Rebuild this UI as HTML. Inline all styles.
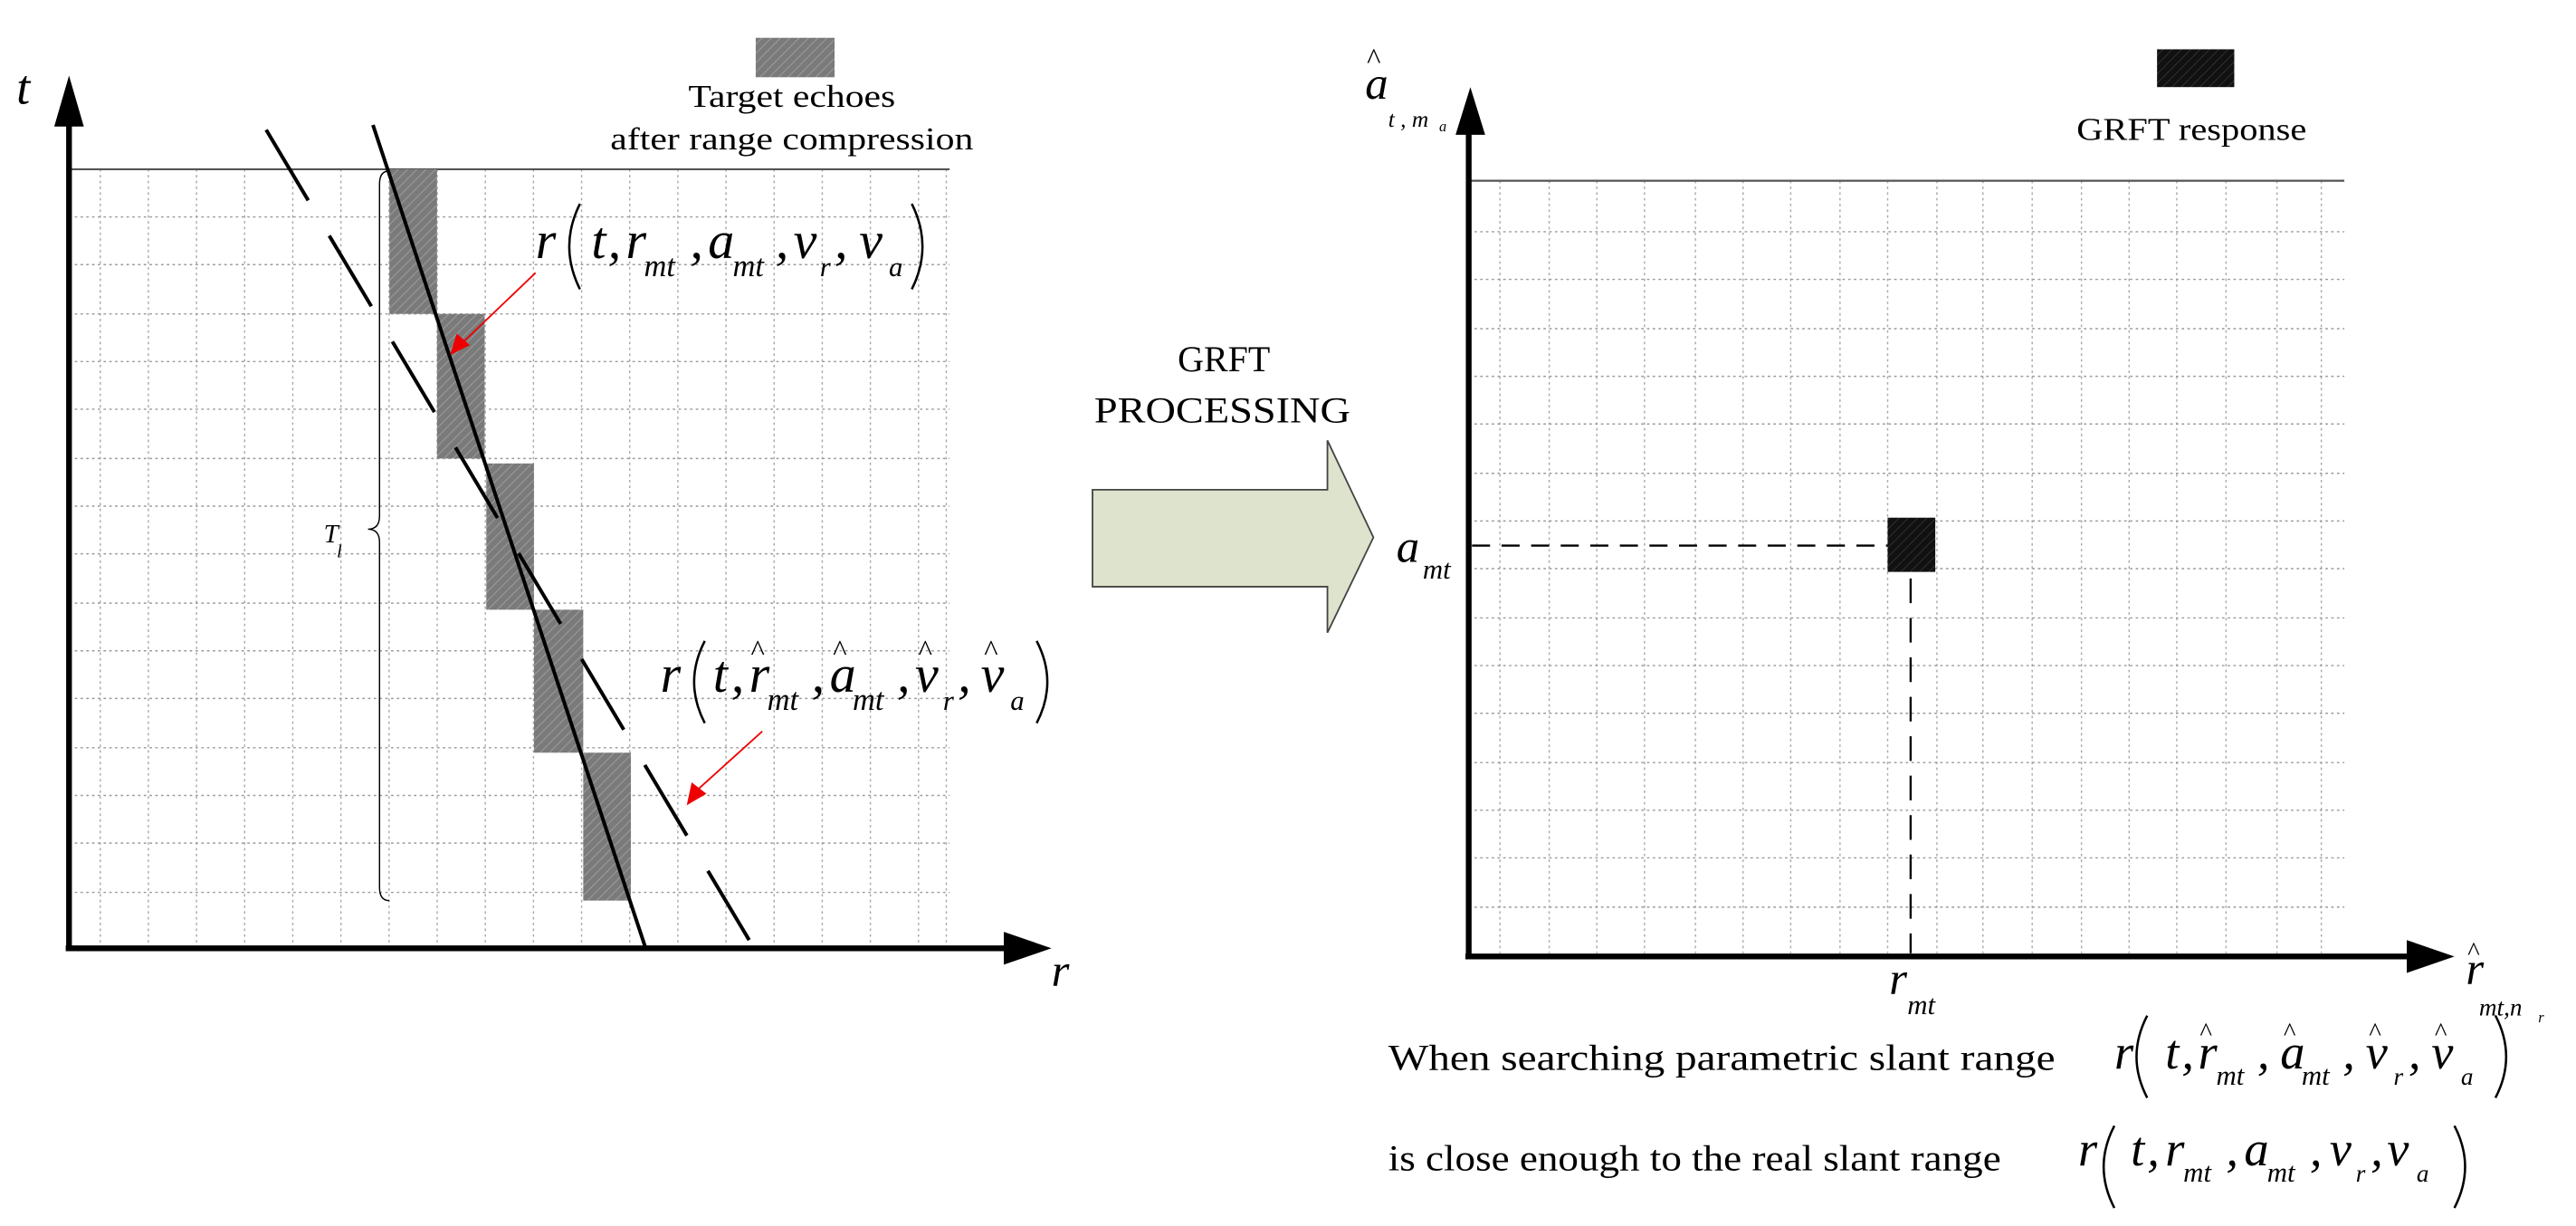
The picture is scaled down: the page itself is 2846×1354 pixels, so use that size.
<!DOCTYPE html>
<html><head><meta charset="utf-8"><style>html,body{margin:0;padding:0;background:#fff}svg{display:block}</style></head>
<body>
<svg width="2846" height="1354" viewBox="0 0 1568 746" xmlns="http://www.w3.org/2000/svg" font-family="Liberation Serif, serif">
<defs>
<pattern id="hg" width="4" height="4" patternUnits="userSpaceOnUse" patternTransform="rotate(45)">
<rect width="4" height="4" fill="#7a7a7a"/><line x1="0" y1="0" x2="0" y2="4" stroke="#9a9a9a" stroke-width="1.2"/></pattern>
<pattern id="hb" width="4" height="4" patternUnits="userSpaceOnUse" patternTransform="rotate(45)">
<rect width="4" height="4" fill="#111"/><line x1="0" y1="0" x2="0" y2="4" stroke="#333" stroke-width="1"/></pattern>
</defs>
<g stroke="#aaa" stroke-width="0.8" stroke-dasharray="1.5 2" fill="none">
<path d="M61 103V577M90.3 103V577M119.6 103V577M148.9 103V577M178.2 103V577M207.5 103V577M236.8 103V577M266.1 103V577M295.4 103V577M324.7 103V577M354 103V577M383.3 103V577M412.6 103V577M441.9 103V577M471.2 103V577M500.5 103V577M529.8 103V577M559.1 103V577M576 103V577"/>
<path stroke="#999" d="M42 132H578M42 161H578M42 191H578M42 220H578M42 249H578M42 279H578M42 308H578M42 337H578M42 367H578M42 396H578M42 425H578M42 455H578M42 484H578M42 513H578M42 543H578"/>
<path d="M913 110V580M943 110V580M972 110V580M1001 110V580M1032 110V580M1061 110V580M1090 110V580M1120 110V580M1149 110V580M1179 110V580M1207 110V580M1237 110V580M1267 110V580M1296 110V580M1325 110V580M1355 110V580M1386 110V580M1413 110V580"/>
<path stroke="#999" d="M894 141H1427M894 170H1427M894 200H1427M894 229H1427M894 258H1427M894 288H1427M894 317H1427M894 346H1427M894 376H1427M894 405H1427M894 434H1427M894 464H1427M894 493H1427M894 522H1427M894 552H1427"/>
</g>
<line x1="42" y1="103" x2="578" y2="103" stroke="#555" stroke-width="1.2"/>
<line x1="894" y1="110" x2="1427" y2="110" stroke="#555" stroke-width="1.2"/>
<g fill="url(#hg)">
<rect x="237" y="103" width="29" height="88"/>
<rect x="266" y="191" width="29" height="88"/>
<rect x="296" y="282" width="29" height="89"/>
<rect x="325" y="371" width="30" height="87"/>
<rect x="355" y="458" width="29" height="90"/>
</g>
<line x1="227" y1="76" x2="393" y2="577" stroke="#000" stroke-width="2.2"/>
<line x1="162" y1="79" x2="456" y2="572" stroke="#000" stroke-width="2.2" stroke-dasharray="50 25"/>
<path d="M237 104 Q231 104 231 112 L231 314 Q231 322 224 322 Q231 322 231 330 L231 540 Q231 548 237 548" fill="none" stroke="#000" stroke-width="0.8"/>
<text x="197" y="330" font-size="16" font-style="italic">T</text><text x="205" y="339" font-size="11" font-style="italic">l</text>
<line x1="42" y1="577" x2="42" y2="72" stroke="#000" stroke-width="3.5"/>
<polygon points="33,77 51,77 42,46" fill="#000"/>
<line x1="40" y1="577" x2="614" y2="577" stroke="#000" stroke-width="3.5"/>
<polygon points="611,567 611,587 640,577" fill="#000"/>
<text x="10" y="63" font-size="30" font-style="italic">t</text>
<text x="640" y="600" font-size="28" font-style="italic">r</text>
<rect x="460" y="23" width="48" height="24" fill="url(#hg)"/>
<text x="482" y="65" font-size="19" text-anchor="middle" textLength="126" lengthAdjust="spacingAndGlyphs">Target echoes</text>
<text x="482" y="91" font-size="19" text-anchor="middle" textLength="221" lengthAdjust="spacingAndGlyphs">after range compression</text>
<!-- parens -->
<g fill="none" stroke="#000" stroke-width="1.4">
<path d="M353 124 Q340 150 353 176"/><path d="M555 124 Q568 150 555 176"/>
<path d="M429 390 Q416 415 429 440"/><path d="M631 390 Q644 415 631 440"/>
<path d="M1307 618 Q1294 643 1307 668"/><path d="M1519 618 Q1532 643 1519 668"/>
<path d="M1287 685 Q1274 710 1287 735"/><path d="M1494 685 Q1507 710 1494 735"/>
</g>
<g font-style="italic" font-size="32">
<text x="326" y="157">r</text>
<text x="360" y="157">t</text><text x="370" y="157">,</text>
<text x="381" y="157">r</text><text x="392" y="168" font-size="19">mt</text><text x="420" y="157">,</text>
<text x="431" y="157">a</text><text x="446" y="168" font-size="19">mt</text><text x="472" y="157">,</text>
<text x="483" y="157">v</text><text x="499" y="168" font-size="17">r</text><text x="508" y="157">,</text>
<text x="523" y="157">v</text><text x="541" y="168" font-size="17">a</text>
</g>
<line x1="326" y1="166" x2="280" y2="210" stroke="#e00" stroke-width="1"/>
<polygon points="274,216 278,203 286,210" fill="#e00"/>
<g font-style="italic" font-size="32">
<text x="402" y="421">r</text>
<text x="434" y="421">t</text><text x="445" y="421">,</text>
<text x="456" y="421">r</text><text x="457" y="402" font-size="18" font-style="normal">^</text><text x="467" y="432" font-size="19">mt</text><text x="494" y="421">,</text>
<text x="505" y="421">a</text><text x="507" y="402" font-size="18" font-style="normal">^</text><text x="519" y="432" font-size="19">mt</text><text x="546" y="421">,</text>
<text x="557" y="421">v</text><text x="559" y="402" font-size="18" font-style="normal">^</text><text x="574" y="432" font-size="17">r</text><text x="583" y="421">,</text>
<text x="597" y="421">v</text><text x="599" y="402" font-size="18" font-style="normal">^</text><text x="615" y="432" font-size="17">a</text>
</g>
<line x1="464" y1="445" x2="423" y2="482" stroke="#e00" stroke-width="1"/>
<polygon points="418,490 421,476 430,483" fill="#e00"/>
<polygon points="665,298 808,298 808,268 836,327 808,385 808,357 665,357" fill="#dde3cc" stroke="#444" stroke-width="1"/>
<text x="745" y="226" font-size="22" text-anchor="middle">GRFT</text>
<text x="744" y="257" font-size="22" text-anchor="middle" textLength="156" lengthAdjust="spacingAndGlyphs">PROCESSING</text>
<line x1="894" y1="582" x2="894" y2="78" stroke="#000" stroke-width="3.5"/>
<polygon points="886,82 904,82 895,53" fill="#000"/>
<line x1="892" y1="582" x2="1468" y2="582" stroke="#000" stroke-width="3.5"/>
<polygon points="1465,572 1465,592 1494,582" fill="#000"/>
<rect x="1149" y="315" width="29" height="33" fill="url(#hb)"/>
<line x1="896" y1="332" x2="1149" y2="332" stroke="#000" stroke-width="1.3" stroke-dasharray="11 7"/>
<line x1="1163" y1="352" x2="1163" y2="580" stroke="#000" stroke-width="1.3" stroke-dasharray="15 9"/>
<rect x="1313" y="30" width="47" height="23" fill="url(#hb)"/>
<text x="1334" y="85" font-size="19" text-anchor="middle" textLength="140" lengthAdjust="spacingAndGlyphs">GRFT response</text>
<g font-style="italic">
<text x="831" y="60" font-size="28">a</text><text x="832" y="42" font-size="18" font-style="normal">^</text>
<text x="845" y="77" font-size="14">t , m</text><text x="876" y="80" font-size="9">a</text>
<text x="850" y="342" font-size="28">a</text><text x="866" y="352" font-size="17">mt</text>
<text x="1150" y="605" font-size="28">r</text><text x="1161" y="617" font-size="17">mt</text>
<text x="1501" y="599" font-size="28">r</text><text x="1502" y="584" font-size="16" font-style="normal">^</text>
<text x="1509" y="618" font-size="15">mt,n</text><text x="1545" y="622" font-size="9">r</text>
</g>
<text x="845" y="651" font-size="22" textLength="406" lengthAdjust="spacingAndGlyphs">When searching parametric slant range</text>
<text x="845" y="712" font-size="22" textLength="373" lengthAdjust="spacingAndGlyphs">is close enough to the real slant range</text>
<g font-style="italic" font-size="30">
<text x="1287" y="650">r</text>
<text x="1318" y="650">t</text><text x="1328" y="650">,</text>
<text x="1338" y="650">r</text><text x="1339" y="633" font-size="16" font-style="normal">^</text><text x="1349" y="660" font-size="17">mt</text><text x="1374" y="650">,</text>
<text x="1388" y="650">a</text><text x="1390" y="633" font-size="16" font-style="normal">^</text><text x="1401" y="660" font-size="17">mt</text><text x="1426" y="650">,</text>
<text x="1440" y="650">v</text><text x="1442" y="633" font-size="16" font-style="normal">^</text><text x="1457" y="660" font-size="15">r</text><text x="1466" y="650">,</text>
<text x="1480" y="650">v</text><text x="1482" y="633" font-size="16" font-style="normal">^</text><text x="1498" y="660" font-size="15">a</text>
</g>
<g font-style="italic" font-size="30">
<text x="1265" y="709">r</text>
<text x="1297" y="709">t</text><text x="1307" y="709">,</text>
<text x="1318" y="709">r</text><text x="1329" y="719" font-size="17">mt</text><text x="1355" y="709">,</text>
<text x="1366" y="709">a</text><text x="1380" y="719" font-size="17">mt</text><text x="1406" y="709">,</text>
<text x="1418" y="709">v</text><text x="1434" y="719" font-size="15">r</text><text x="1443" y="709">,</text>
<text x="1453" y="709">v</text><text x="1471" y="719" font-size="15">a</text>
</g>
</svg>
</body></html>
